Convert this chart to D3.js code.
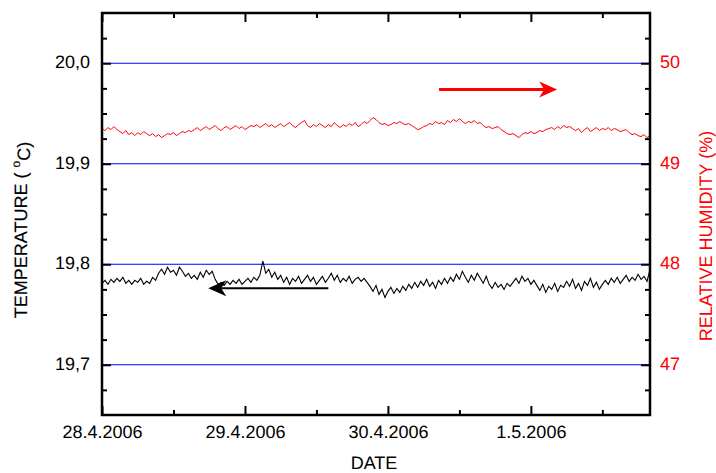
<!DOCTYPE html>
<html><head><meta charset="utf-8">
<script src="https://cdn.jsdelivr.net/npm/d3@7"></script>
<style>
body{margin:0;background:#fff}
svg{display:block}
text{font-family:"Liberation Sans",Arial,Helvetica,sans-serif;text-rendering:geometricPrecision}
</style>
</head><body>
<svg id="chart" width="716" height="473"></svg>
<script>
// ---------- DATA ----------
const startTime = "2006-04-28T00:00:00Z";
const endTime = "2006-05-01T20:00:00Z";
const stepMinutes = 30;

const temperature = [
19.781,19.784,19.780,19.785,19.782,19.786,
19.783,19.787,19.781,19.784,19.780,
19.784,19.782,19.786,19.780,19.783,19.781,
19.787,19.784,19.791,
19.795,19.790,19.797,19.792,19.794,19.789,19.797,
19.793,19.788,19.791,19.786,
19.789,19.785,19.792,19.787,19.794,19.790,
19.793,19.785,19.780,
19.782,19.779,19.783,19.780,19.784,19.781,19.785,19.780,19.783,19.786,19.782,19.787,19.784,
19.789,
19.803,
19.791,19.795,19.787,19.792,
19.785,19.789,19.782,19.787,19.780,19.786,19.783,19.788,19.781,19.785,
19.789,19.783,19.787,19.780,19.784,19.788,19.782,19.786,19.791,19.784,
19.789,19.782,19.786,19.783,19.788,19.781,19.785,19.787,19.783,19.786,
19.782,19.778,19.773,19.779,19.770,19.775,19.767,19.773,19.777,19.771,19.776,
19.772,19.778,19.774,19.780,19.776,
19.782,19.777,19.783,19.779,19.785,19.778,19.782,19.776,19.784,19.780,19.786,19.781,
19.787,19.783,19.790,19.785,19.793,19.787,19.782,19.789,19.784,19.791,19.786,19.781,19.788,
19.780,19.776,19.782,19.777,19.780,19.775,19.781,19.778,19.782,
19.786,19.781,19.788,19.783,19.786,19.780,19.784,
19.779,19.774,19.780,19.772,19.778,19.775,19.781,19.773,19.779,19.777,
19.783,19.778,19.785,19.776,19.781,19.774,19.783,19.779,19.786,19.777,19.782,19.775,19.780,
19.784,19.780,19.786,19.782,19.787,19.781,19.785,19.789,19.783,19.787,19.784,19.790,19.785,19.788,19.783,19.795
];

const humidity = [
49.35,49.33,49.36,49.34,49.37,49.34,
49.32,49.30,49.33,49.29,49.31,
49.28,49.31,49.29,49.32,49.30,49.28,
49.30,49.27,49.29,49.26,49.28,49.30,
49.29,49.31,49.28,49.30,49.32,49.31,49.33,49.32,
49.34,49.36,49.33,49.35,49.37,49.34,49.36,49.38,49.35,49.33,
49.36,49.37,49.34,49.36,49.38,49.35,49.37,49.34,49.36,49.38,
49.37,49.39,49.36,49.38,49.40,49.37,49.39,49.36,49.38,49.40,
49.37,49.39,49.41,49.38,49.36,49.39,
49.41,49.43,
49.38,49.36,49.39,49.37,49.40,49.38,49.36,49.39,49.37,49.41,
49.38,49.36,49.39,49.37,49.40,49.38,49.41,49.37,49.39,49.42,
49.40,49.43,
49.46,49.44,
49.41,49.39,49.40,49.38,49.39,49.41,49.40,49.42,49.40,49.39,
49.40,49.38,49.36,49.34,49.35,49.37,49.38,
49.40,49.39,49.42,49.40,49.41,49.39,49.43,49.41,49.44,49.42,
49.45,49.42,49.40,49.42,49.41,49.43,49.40,49.41,
49.38,49.36,49.37,49.35,49.36,49.37,
49.34,49.32,49.30,49.29,49.30,49.28,49.26,
49.29,49.31,49.30,49.32,49.30,49.31,49.33,49.32,49.34,
49.35,49.36,49.34,49.37,49.35,49.38,49.36,49.37,49.35,
49.33,49.35,49.31,49.34,49.36,49.32,
49.34,49.36,49.33,49.35,49.34,49.36,49.33,49.35,49.34,49.32,49.33,49.34,
49.31,49.29,49.30,49.28,49.27,49.29,49.26,49.28
];

const tempTicks = [19.7, 19.8, 19.9, 20.0];
const tempMinorTicks = [19.675,19.725,19.75,19.775,19.825,19.85,19.875,19.925,19.95,19.975,20.025];
const rhTicks = [47, 48, 49, 50];
const rhMinorTicks = [46.75,47.25,47.5,47.75,48.25,48.5,48.75,49.25,49.5,49.75,50.25];
const dateTicks = ["2006-04-28T00:00:00Z","2006-04-29T00:00:00Z","2006-04-30T00:00:00Z","2006-05-01T00:00:00Z"];
const dateMinorTicks = ["2006-04-28T12:00:00Z","2006-04-29T12:00:00Z","2006-04-30T12:00:00Z","2006-05-01T12:00:00Z"];
const tempDomain = [19.65, 20.05];
const rhDomain = [46.5, 50.5];

// annotation arrows: [tail, tip]
const tempArrow = [{t:"2006-04-29T14:00:00Z", v:19.776},{t:"2006-04-28T17:50:00Z", v:19.776}];
const rhArrow = [{t:"2006-04-30T08:35:00Z", v:49.74},{t:"2006-05-01T04:25:00Z", v:49.74}];

// ---------- CHART ----------
const svg = d3.select("#chart");
const L = 102, R = 650, T = 13, B = 415;

const x = d3.scaleUtc().domain([new Date(startTime), new Date(endTime)]).range([L, R]);
const yT = d3.scaleLinear().domain(tempDomain).range([B, T]);
const yH = d3.scaleLinear().domain(rhDomain).range([B, T]);

const t0 = new Date(startTime).getTime();
const timeAt = i => new Date(t0 + i * stepMinutes * 60000);
const tempData = temperature.map((v, i) => ({t: timeAt(i), v}));
const rhData = humidity.map((v, i) => ({t: timeAt(i), v}));

// gridlines
svg.append("g").selectAll("line").data(tempTicks).join("line")
  .attr("x1", L).attr("x2", R)
  .attr("y1", d => yT(d)).attr("y2", d => yT(d))
  .attr("stroke", "#0000ff").attr("stroke-width", 1);

// lines
const lineT = d3.line().x(d => x(d.t)).y(d => yT(d.v));
const lineH = d3.line().x(d => x(d.t)).y(d => yH(d.v));
svg.append("path").datum(rhData).attr("d", lineH)
  .attr("fill", "none").attr("stroke", "#ff0000").attr("stroke-width", 1);
svg.append("path").datum(tempData).attr("d", lineT)
  .attr("fill", "none").attr("stroke", "#000").attr("stroke-width", 1.1);

const fmtComma = d => d3.format(".1f")(d).replace(".", ",");
const fmtDate = d3.utcFormat("%-d.%-m.%Y");
const dTicks = dateTicks.map(s => new Date(s));
const dMinor = dateMinorTicks.map(s => new Date(s));

function styleAxis(g, color) {
  g.select(".domain").remove();
  g.selectAll(".tick line").attr("stroke", "#000").attr("stroke-width", 2);
  g.selectAll(".tick text").attr("fill", color).style("fill", color).style("font-size", "18px")
    .style("font-family", '"Liberation Sans", Arial, sans-serif');
}

// left axis
const gl = svg.append("g").attr("transform", `translate(${L},0)`)
  .call(d3.axisLeft(yT).tickValues(tempTicks).tickFormat(fmtComma).tickSizeInner(-9).tickSizeOuter(0).tickPadding(12));
styleAxis(gl, "#000"); gl.selectAll(".tick text").attr("dy", "0.26em");
const glm = svg.append("g").attr("transform", `translate(${L},0)`)
  .call(d3.axisLeft(yT).tickValues(tempMinorTicks).tickFormat("").tickSizeInner(-5).tickSizeOuter(0));
styleAxis(glm, "#000");

// right axis
const gr = svg.append("g").attr("transform", `translate(${R},0)`)
  .call(d3.axisRight(yH).tickValues(rhTicks).tickFormat(d3.format("d")).tickSizeInner(-9).tickSizeOuter(0).tickPadding(10));
styleAxis(gr, "#ff0000"); gr.selectAll(".tick text").attr("dy", "0.26em");
const grm = svg.append("g").attr("transform", `translate(${R},0)`)
  .call(d3.axisRight(yH).tickValues(rhMinorTicks).tickFormat("").tickSizeInner(-5).tickSizeOuter(0));
styleAxis(grm, "#000");

// bottom axis
const gb = svg.append("g").attr("transform", `translate(0,${B})`)
  .call(d3.axisBottom(x).tickValues(dTicks).tickFormat(fmtDate).tickSizeInner(-9).tickSizeOuter(0).tickPadding(10));
styleAxis(gb, "#000");
const gbm = svg.append("g").attr("transform", `translate(0,${B})`)
  .call(d3.axisBottom(x).tickValues(dMinor).tickFormat("").tickSizeInner(-5).tickSizeOuter(0));
styleAxis(gbm, "#000");

// top axis (mirror)
const gt = svg.append("g").attr("transform", `translate(0,${T})`)
  .call(d3.axisTop(x).tickValues(dTicks).tickFormat("").tickSizeInner(-9).tickSizeOuter(0));
styleAxis(gt, "#000");
const gtm = svg.append("g").attr("transform", `translate(0,${T})`)
  .call(d3.axisTop(x).tickValues(dMinor).tickFormat("").tickSizeInner(-5).tickSizeOuter(0));
styleAxis(gtm, "#000");

// frame
svg.append("rect").attr("x", L).attr("y", T).attr("width", R - L).attr("height", B - T)
  .attr("fill", "none").attr("stroke", "#000").attr("stroke-width", 2.5);

// arrows
function arrow(pts, ys, color, w) {
  const x1 = x(new Date(pts[0].t)), y1 = ys(pts[0].v);
  const x2 = x(new Date(pts[1].t)), y2 = ys(pts[1].v);
  const dir = Math.sign(x2 - x1);
  const hl = 18, hw = 8, notch = 5;
  svg.append("line").attr("x1", x1).attr("y1", y1).attr("x2", x2 - dir * (hl - notch)).attr("y2", y2)
    .attr("stroke", color).attr("stroke-width", w);
  svg.append("path")
    .attr("d", `M${x2},${y2} L${x2 - dir * hl},${y2 - hw} L${x2 - dir * (hl - notch)},${y2} L${x2 - dir * hl},${y2 + hw} Z`)
    .attr("fill", color);
}
arrow(tempArrow, yT, "#000", 2);
arrow(rhArrow, yH, "#ff0000", 3);

// axis titles
svg.append("text").attr("x", 374).attr("y", 469).attr("text-anchor", "middle")
  .style("font-size", "18px").style("fill", "#000").text("DATE");

const lt = svg.append("text").attr("transform", "translate(27,230) rotate(-90)")
  .attr("text-anchor", "middle").style("font-size", "18px")
  .style("fill", "#000").attr("fill", "black").attr("stroke", "black").attr("stroke-width", 0.15);
lt.append("tspan").text("TEMPERATURE (  ");
lt.append("tspan").attr("dy", "-0.55em").style("font-size", "12px").text("o");
lt.append("tspan").attr("dy", "0.55em").text("C)");

svg.append("text").attr("transform", "translate(712,236) rotate(-90)")
  .attr("text-anchor", "middle").style("font-size", "18px").style("fill", "#ff0000")
  .text("RELATIVE HUMIDITY (%)");
</script>
</body></html>
